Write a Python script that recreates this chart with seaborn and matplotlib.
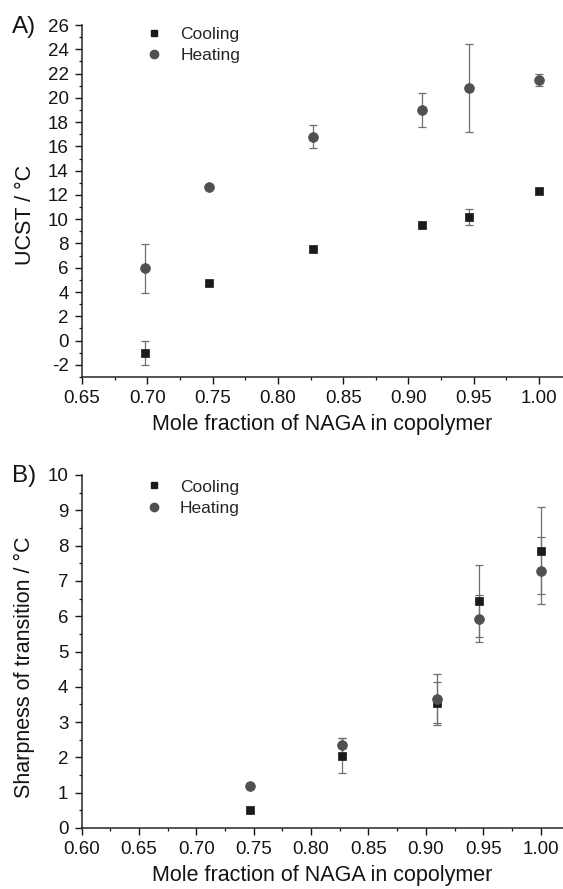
import numpy as np
import pandas as pd
import seaborn as sns
import matplotlib
matplotlib.use("Agg")
import matplotlib.pyplot as plt
from matplotlib.ticker import MultipleLocator, FormatStrFormatter
from matplotlib.lines import Line2D

# Mole fraction of NAGA in the copolymers
naga_fraction = [0.698, 0.747, 0.827, 0.910, 0.946, 1.000]

# A) cloud points (UCST, °C)
ucst_cooling = [-1.04, 4.75, 7.55, 9.49, 10.15, 12.29]
ucst_cooling_err = [1.0, 0.0, 0.0, 0.0, 0.66, 0.0]
ucst_heating = [5.95, 12.67, 16.79, 19.01, 20.80, 21.46]
ucst_heating_err = [2.0, 0.0, 0.95, 1.38, 3.60, 0.48]

# B) sharpness of the transition (°C), no value for the 0.698 copolymer
sharp_fraction = [0.747, 0.827, 0.910, 0.946, 1.000]
sharp_cooling = [0.50, 2.05, 3.53, 6.43, 7.85]
sharp_cooling_err = [0.0, 0.50, 0.60, 1.03, 1.23]
sharp_heating = [1.20, 2.34, 3.66, 5.93, 7.29]
sharp_heating_err = [0.0, 0.22, 0.69, 0.66, 0.94]

series_names = ["Cooling", "Heating"]
xlabel = "Mole fraction of NAGA in copolymer"

sns.set_style("ticks")
plt.rcParams["font.family"] = ["Liberation Sans", "DejaVu Sans"]
plt.rcParams["axes.unicode_minus"] = False
plt.rcParams["axes.linewidth"] = 1.1
plt.rcParams["xtick.major.width"] = 1.0
plt.rcParams["ytick.major.width"] = 1.0
plt.rcParams["xtick.minor.width"] = 0.9
plt.rcParams["ytick.minor.width"] = 0.9

INK = "#141414"
COL = {"Cooling": "#1a1a1a", "Heating": "#505050"}
MARK = {"Cooling": "s", "Heating": "o"}
SIZE = {"Cooling": 40, "Heating": 50}
LEG_SIZE = {"Cooling": 5.0, "Heating": 6.0}
ERR_COLOR = "#6e6e6e"

W, H = 563, 889
fig = plt.figure(figsize=(W / 100, H / 100), dpi=100)


def px_axes(left, top, bottom):
    return fig.add_axes([left / W, 1 - bottom / H, 1 - left / W, (bottom - top) / H])


def draw_panel(ax, x, cool, cool_err, heat, heat_err):
    df = pd.DataFrame({
        "x": list(x) * 2,
        "y": list(cool) + list(heat),
        "err": list(cool_err) + list(heat_err),
        "mode": ["Cooling"] * len(x) + ["Heating"] * len(x),
    })
    for mode in series_names:
        sub = df[(df["mode"] == mode) & (df["err"] > 0)]
        ax.errorbar(sub["x"], sub["y"], yerr=sub["err"], fmt="none",
                    ecolor=ERR_COLOR, elinewidth=0.9, capsize=3.0,
                    capthick=0.9, zorder=1)
    for mode in series_names:
        sub = df[df["mode"] == mode]
        sns.scatterplot(data=sub, x="x", y="y", ax=ax, marker=MARK[mode],
                        color=COL[mode], s=SIZE[mode], edgecolor=COL[mode],
                        linewidth=0.5, zorder=3, legend=False)
    handles = [
        Line2D([], [], ls="none", marker=MARK[m], color=COL[m],
               markersize=LEG_SIZE[m])
        for m in series_names
    ]
    sns.despine(ax=ax)
    ax.tick_params(axis="both", which="major", direction="out", length=5,
                   labelsize=13.5, color=INK, labelcolor=INK, pad=4.5)
    ax.tick_params(axis="both", which="minor", direction="out", length=2.5,
                   color=INK)
    ax.set_xlabel(xlabel, fontsize=15.5, color=INK, labelpad=5)
    return handles


def add_legend(ax, handles, anchor):
    ax.legend(handles, series_names, loc="upper left",
              bbox_to_anchor=anchor, frameon=False, fontsize=12.5,
              handlelength=0.8, handletextpad=1.1, labelspacing=0.35,
              borderpad=0.3)


# Panel A: UCST
A_LEFT, A_SCALE = 82, 65.3 / 0.05          # pixels per unit of mole fraction
axA = px_axes(A_LEFT, 25, 377)
hA = draw_panel(axA, naga_fraction, ucst_cooling, ucst_cooling_err,
                ucst_heating, ucst_heating_err)
axA.set_xlim(0.65, 0.65 + (W - A_LEFT) / A_SCALE)
axA.set_ylim(-3, 26)
axA.set_xticks([0.65, 0.70, 0.75, 0.80, 0.85, 0.90, 0.95, 1.00])
axA.xaxis.set_minor_locator(MultipleLocator(0.025))
axA.set_yticks(np.arange(-2, 27, 2))
axA.yaxis.set_minor_locator(MultipleLocator(1))
axA.xaxis.set_major_formatter(FormatStrFormatter("%.2f"))
axA.set_ylabel("UCST / °C", fontsize=15.5, color=INK)
axA.yaxis.set_label_coords(-0.095, 0.46)
add_legend(axA, hA, (0.107, 1.035))
fig.text(12 / W, 1 - 27 / H, "A)", fontsize=17.5, ha="left", va="center",
         color=INK)

# Panel B: sharpness of the transition
B_LEFT, B_SCALE = 81.5, 57.4 / 0.05
axB = px_axes(B_LEFT, 475, 828)
hB = draw_panel(axB, sharp_fraction, sharp_cooling, sharp_cooling_err,
                sharp_heating, sharp_heating_err)
axB.set_xlim(0.60, 0.60 + (W - B_LEFT) / B_SCALE)
axB.set_ylim(0, 10)
axB.set_xticks([0.60, 0.65, 0.70, 0.75, 0.80, 0.85, 0.90, 0.95, 1.00])
axB.xaxis.set_minor_locator(MultipleLocator(0.025))
axB.set_yticks(np.arange(0, 11, 1))
axB.yaxis.set_minor_locator(MultipleLocator(0.5))
axB.xaxis.set_major_formatter(FormatStrFormatter("%.2f"))
axB.set_ylabel("Sharpness of transition / °C", fontsize=15.5, color=INK)
axB.yaxis.set_label_coords(-0.097, 0.456)
add_legend(axB, hB, (0.107, 1.027))
fig.text(12 / W, 1 - 476 / H, "B)", fontsize=17.5, ha="left", va="center",
         color=INK)

fig.savefig("out.png", dpi=100)
